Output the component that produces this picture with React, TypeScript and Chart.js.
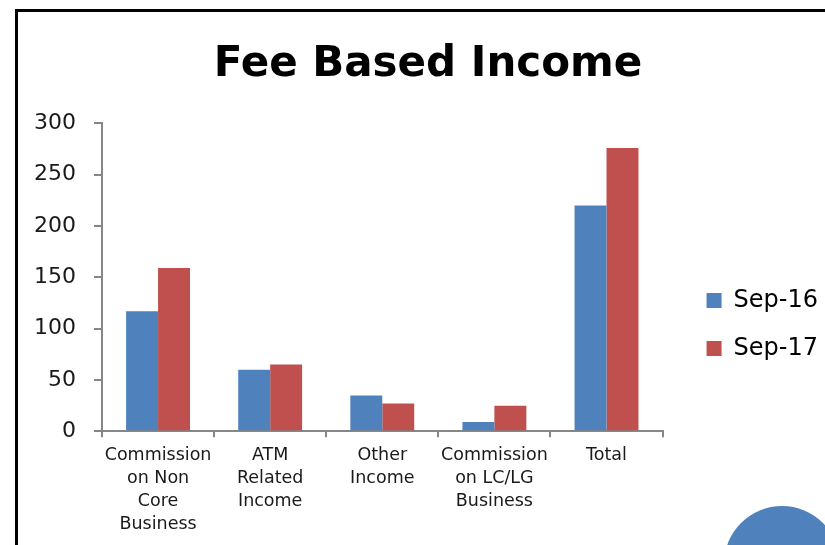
import React, { useEffect, useRef } from "react";
import { Chart, registerables } from "chart.js";

Chart.register(...registerables);

const categories: string[][] = [
  ["Commission", "on Non", "Core", "Business"],
  ["ATM", "Related", "Income"],
  ["Other", "Income"],
  ["Commission", "on LC/LG", "Business"],
  ["Total"],
];
const sep16: number[] = [117, 60, 35, 9, 220];
const sep17: number[] = [159, 65, 27, 25, 276];
const seriesNames: string[] = ["Sep-16", "Sep-17"];
const titleText = "Fee Based Income";

const FONT = "'DejaVu Sans', sans-serif";
const AXIS = "#868686";

export default function App() {
  const ref = useRef<HTMLCanvasElement | null>(null);
  useEffect(() => {
    document.body.style.margin = "0";
    document.body.style.overflow = "hidden";
    const ctx = ref.current!;
    const spacer = (w: number) => (s: any) => {
      s.width = w;
    };
    const chart = new Chart(ctx, {
      type: "bar",
      data: {
        labels: categories,
        datasets: [
          { label: seriesNames[0], data: sep16, backgroundColor: "#4F81BD", categoryPercentage: 0.57, barPercentage: 1 },
          { label: seriesNames[1], data: sep17, backgroundColor: "#C0504D", categoryPercentage: 0.57, barPercentage: 1 },
        ],
      },
      options: {
        responsive: false,
        animation: false,
        devicePixelRatio: 1,
        layout: { padding: { left: 0, right: 0, top: 0, bottom: 2 } },
        plugins: {
          title: {
            display: true,
            text: titleText,
            color: "#000",
            font: { family: FONT, size: 42, weight: "bold" },
            padding: { top: 40, bottom: 33 },
          },
          legend: {
            position: "right",
            title: { display: true, text: " ", font: { family: FONT, size: 10 }, padding: { top: 47, bottom: 47 } },
            labels: {
              color: "#000",
              font: { family: FONT, size: 24 },
              boxWidth: 15,
              boxHeight: 15,
              padding: 24,
            },
          },
          tooltip: { enabled: false },
        },
        scales: {
          x: {
            grid: { display: true, drawOnChartArea: false, drawTicks: true, tickLength: 6, color: AXIS, lineWidth: 2, offset: true },
            border: { color: AXIS, width: 2 },
            ticks: {
              color: "#1a1a1a",
              font: { family: FONT, size: 17.5, lineHeight: 1.31 },
              padding: 7,
              maxRotation: 0,
              autoSkip: false,
            },
          },
          y: {
            min: 0,
            max: 300,
            ticks: { stepSize: 50, color: "#1a1a1a", font: { family: FONT, size: 22 }, padding: 18 },
            grid: { display: true, drawOnChartArea: false, drawTicks: true, tickLength: 8, color: AXIS, lineWidth: 2 },
            border: { color: AXIS, width: 2 },
          },
          gap: {
            position: "right",
            display: false,
            afterFit: spacer(20),
          },
          edge: {
            position: "right",
            weight: 2000,
            display: false,
            afterFit: spacer(12),
          },
        },
      },
    });
    return () => chart.destroy();
  }, []);

  return (
    <div style={{ position: "fixed", left: 0, top: 0, width: 825, height: 545, overflow: "hidden", background: "#fff" }}>
      <div
        style={{
          position: "absolute",
          left: 15,
          top: 9,
          width: 1000,
          height: 1000,
          border: "3px solid #000",
          boxSizing: "border-box",
        }}
      />
      <canvas ref={ref} width={824} height={545} style={{ position: "absolute", left: 16, top: 0 }} />
      <div
        style={{
          position: "absolute",
          left: 724,
          top: 506,
          width: 116,
          height: 116,
          borderRadius: "50%",
          background: "#4F81BD",
        }}
      />
    </div>
  );
}
